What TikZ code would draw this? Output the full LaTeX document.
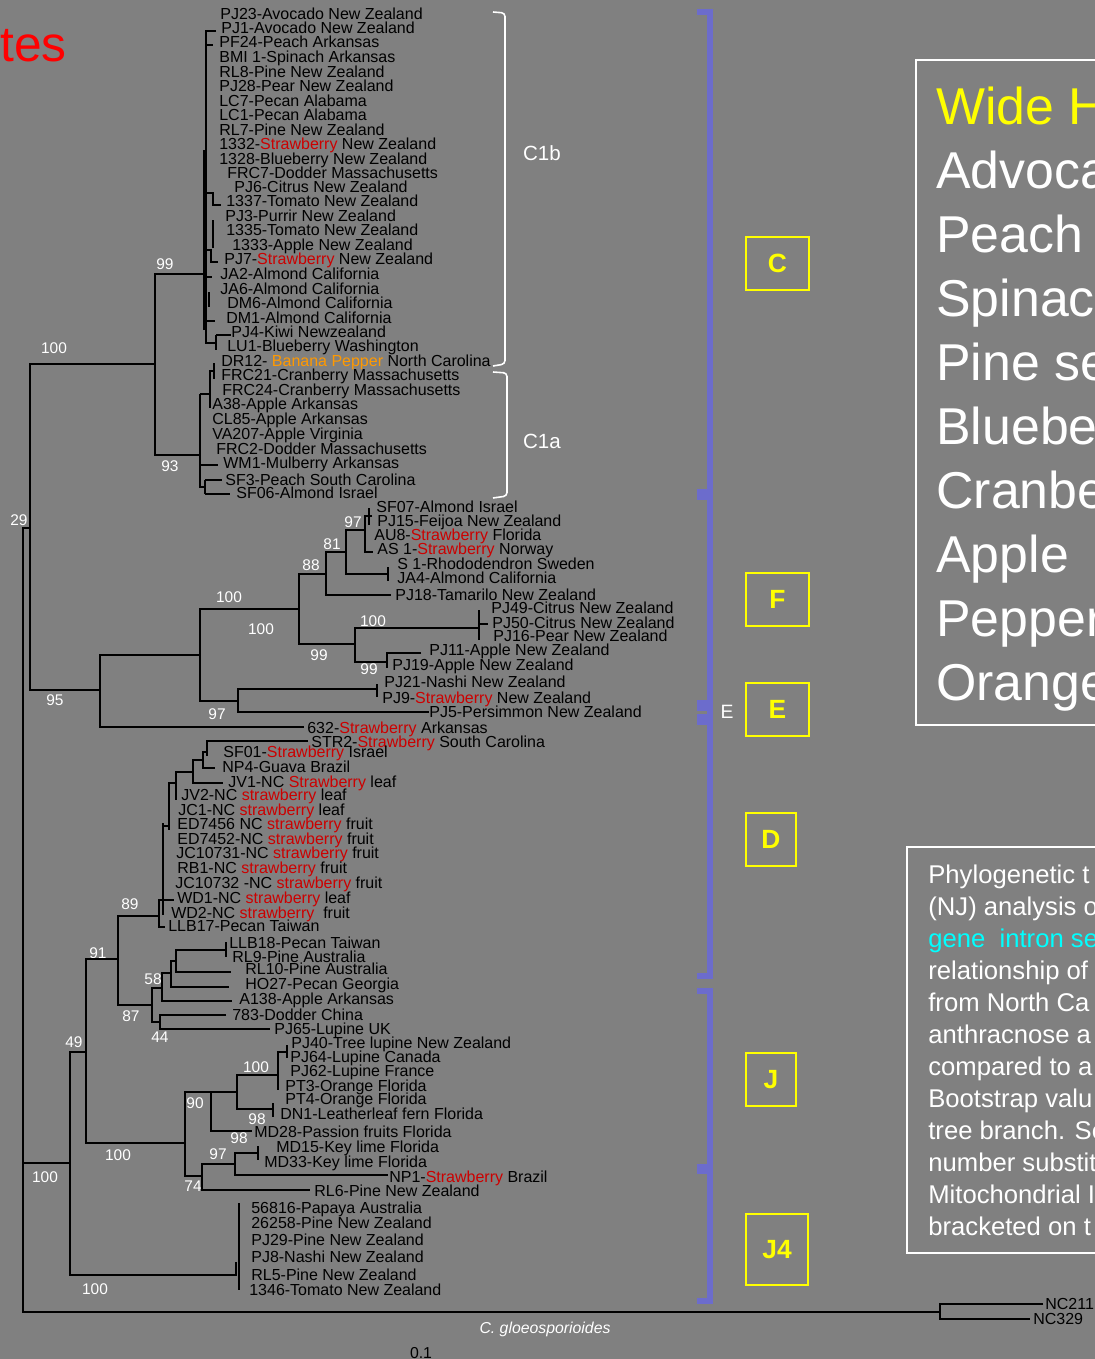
\documentclass[tikz,border=0pt]{standalone}
\usepackage{fontspec}
\setmainfont{Liberation Sans}
\definecolor{bggray}{RGB}{128,128,128}
\definecolor{strawred}{RGB}{204,0,0}
\definecolor{banana}{RGB}{255,153,0}
\definecolor{brkblue}{RGB}{108,108,204}
\definecolor{hiyellow}{RGB}{255,255,0}
\definecolor{hicyan}{RGB}{0,255,255}
\definecolor{hired}{RGB}{255,0,0}
\newcommand{\straw}[1]{\textcolor{strawred}{#1}}
\begin{document}
\begin{tikzpicture}[x=0.02cm,y=-0.02cm,
    leaf/.style={anchor=base west,inner sep=0pt,font=\fontsize{9.1}{10}\selectfont},
    boot/.style={inner sep=0pt,text=white,font=\fontsize{8.8}{10}\selectfont},
    br/.style={line width=1.2pt},
    sub/.style={draw=white,line width=0.9pt,rounded corners=2pt},
    grp/.style={draw=brkblue,line width=3.8pt},
    cladebox/.style={draw=hiyellow,line width=1.2pt,text=hiyellow,inner sep=0pt,font=\bfseries\fontsize{15}{15}\selectfont},
    hostline/.style={anchor=base west,inner sep=0pt,text=white,font=\fontsize{29.5}{30}\selectfont},
    capline/.style={anchor=base west,inner sep=0pt,text=white,font=\fontsize{14.6}{15}\selectfont}]
    \useasboundingbox (0,0) rectangle (1095,1359);
    \fill[bggray] (0,0) rectangle (1095,1359);
    \clip (0,0) rectangle (1095,1359);

    \node[anchor=base east,inner sep=0pt,text=hired,font=\fontsize{28.3}{30}\selectfont] (ttl) at (67,61) {tes};

    % leaves, clade C1b
    \node[leaf] (pj23) at (220,19) {PJ23-Avocado New Zealand};
    \node[leaf] (pj1) at (221,33) {PJ1-Avocado New Zealand};
    \node[leaf] (pf24) at (219,48) {PF24-Peach Arkansas};
    \node[leaf] (bmi1) at (219,62) {BMI 1-Spinach Arkansas};
    \node[leaf] (rl8) at (219,77) {RL8-Pine New Zealand};
    \node[leaf] (pj28) at (219,91) {PJ28-Pear New Zealand};
    \node[leaf] (lc7) at (219,106) {LC7-Pecan Alabama};
    \node[leaf] (lc1) at (219,120) {LC1-Pecan Alabama};
    \node[leaf] (rl7) at (219,135) {RL7-Pine New Zealand};
    \node[leaf] (s1332) at (219,149) {1332-\straw{Strawberry} New Zealand};
    \node[leaf] (s1328) at (219,164) {1328-Blueberry New Zealand};
    \node[leaf] (frc7) at (227,178) {FRC7-Dodder Massachusetts};
    \node[leaf] (pj6) at (234,192) {PJ6-Citrus New Zealand};
    \node[leaf] (s1337) at (226,206) {1337-Tomato New Zealand};
    \node[leaf] (pj3) at (225,221) {PJ3-Purrir New Zealand};
    \node[leaf] (s1335) at (226,235) {1335-Tomato New Zealand};
    \node[leaf] (s1333) at (232,250) {1333-Apple New Zealand};
    \node[leaf] (pj7) at (224,264) {PJ7-\straw{Strawberry} New Zealand};
    \node[leaf] (ja2) at (220,279) {JA2-Almond California};
    \node[leaf] (ja6) at (220,294) {JA6-Almond California};
    \node[leaf] (dm6) at (227,308) {DM6-Almond California};
    \node[leaf] (dm1) at (226,323) {DM1-Almond California};
    \node[leaf] (pj4) at (231,337) {PJ4-Kiwi Newzealand};
    \node[leaf] (lu1) at (227,351) {LU1-Blueberry Washington};
    \node[leaf] (dr12) at (221,366) {DR12- \textcolor{banana}{Banana Pepper} North Carolina};
    % leaves, clade C1a
    \node[leaf] (frc21) at (221,380) {FRC21-Cranberry Massachusetts};
    \node[leaf] (frc24) at (222,395) {FRC24-Cranberry Massachusetts};
    \node[leaf] (a38) at (212,409) {A38-Apple Arkansas};
    \node[leaf] (cl85) at (212,424) {CL85-Apple Arkansas};
    \node[leaf] (va207) at (212,439) {VA207-Apple Virginia};
    \node[leaf] (frc2) at (216,454) {FRC2-Dodder Massachusetts};
    \node[leaf] (wm1) at (223,468) {WM1-Mulberry Arkansas};
    \node[leaf] (sf3) at (225,485) {SF3-Peach South Carolina};
    \node[leaf] (sf06) at (236,498) {SF06-Almond Israel};
    % leaves, clade F and E
    \node[leaf] (sf07) at (376,512) {SF07-Almond Israel};
    \node[leaf] (pj15) at (377,526) {PJ15-Feijoa New Zealand};
    \node[leaf] (au8) at (374,540) {AU8-\straw{Strawberry} Florida};
    \node[leaf] (as1) at (377,554) {AS 1-\straw{Strawberry} Norway};
    \node[leaf] (s1) at (397,569) {S 1-Rhododendron Sweden};
    \node[leaf] (ja4) at (397,583) {JA4-Almond California};
    \node[leaf] (pj18) at (395,600) {PJ18-Tamarilo New Zealand};
    \node[leaf] (pj49) at (491,613) {PJ49-Citrus New Zealand};
    \node[leaf] (pj50) at (492,628) {PJ50-Citrus New Zealand};
    \node[leaf] (pj16) at (493,641) {PJ16-Pear New Zealand};
    \node[leaf] (pj11) at (429,655) {PJ11-Apple New Zealand};
    \node[leaf] (pj19) at (392,670) {PJ19-Apple New Zealand};
    \node[leaf] (pj21) at (384,687) {PJ21-Nashi New Zealand};
    \node[leaf] (pj9) at (382,703) {PJ9-\straw{Strawberry} New Zealand};
    \node[leaf] (pj5) at (429,717) {PJ5-Persimmon New Zealand};
    \node[leaf] (s632) at (307,733) {632-\straw{Strawberry} Arkansas};
    % leaves, clade D
    \node[leaf] (str2) at (311,747) {STR2-\straw{Strawberry} South Carolina};
    \node[leaf] (sf01) at (223,757) {SF01-\straw{Strawberry} Israel};
    \node[leaf] (np4) at (222,772) {NP4-Guava Brazil};
    \node[leaf] (jv1) at (228,787) {JV1-NC \straw{Strawberry} leaf};
    \node[leaf] (jv2) at (181,800) {JV2-NC \straw{strawberry} leaf};
    \node[leaf] (jc1) at (178,815) {JC1-NC \straw{strawberry} leaf};
    \node[leaf] (ed7456) at (177,829) {ED7456 NC \straw{strawberry} fruit};
    \node[leaf] (ed7452) at (177,844) {ED7452-NC \straw{strawberry} fruit};
    \node[leaf] (jc10731) at (176,858) {JC10731-NC \straw{strawberry} fruit};
    \node[leaf] (rb1) at (177,873) {RB1-NC \straw{strawberry} fruit};
    \node[leaf] (jc10732) at (175,888) {JC10732 -NC \straw{strawberry} fruit};
    \node[leaf] (wd1) at (177,903) {WD1-NC \straw{strawberry} leaf};
    \node[leaf] (wd2) at (171,918) {WD2-NC \straw{strawberry}\ \ fruit};
    \node[leaf] (llb17) at (168,931) {LLB17-Pecan Taiwan};
    \node[leaf] (llb18) at (229,948) {LLB18-Pecan Taiwan};
    \node[leaf] (rl9) at (232,962) {RL9-Pine Australia};
    \node[leaf] (rl10) at (245,974) {RL10-Pine Australia};
    \node[leaf] (ho27) at (245,989) {HO27-Pecan Georgia};
    \node[leaf] (a138) at (239,1004) {A138-Apple Arkansas};
    \node[leaf] (d783) at (232,1020) {783-Dodder China};
    % leaves, clade J and J4
    \node[leaf] (pj65) at (274,1034) {PJ65-Lupine UK};
    \node[leaf] (pj40) at (291,1048) {PJ40-Tree lupine New Zealand};
    \node[leaf] (pj64) at (290,1062) {PJ64-Lupine Canada};
    \node[leaf] (pj62) at (290,1076) {PJ62-Lupine France};
    \node[leaf] (pt3) at (285,1091) {PT3-Orange Florida};
    \node[leaf] (pt4) at (285,1104) {PT4-Orange Florida};
    \node[leaf] (dn1) at (280,1119) {DN1-Leatherleaf fern Florida};
    \node[leaf] (md28) at (254,1137) {MD28-Passion fruits Florida};
    \node[leaf] (md15) at (276,1152) {MD15-Key lime Florida};
    \node[leaf] (md33) at (264,1167) {MD33-Key lime Florida};
    \node[leaf] (np1) at (389,1182) {NP1-\straw{Strawberry} Brazil};
    \node[leaf] (rl6) at (314,1196) {RL6-Pine New Zealand};
    \node[leaf] (p56816) at (251,1213) {56816-Papaya Australia};
    \node[leaf] (p26258) at (251,1228) {26258-Pine New Zealand};
    \node[leaf] (pj29) at (251,1245) {PJ29-Pine New Zealand};
    \node[leaf] (pj8) at (251,1262) {PJ8-Nashi New Zealand};
    \node[leaf] (rl5) at (251,1280) {RL5-Pine New Zealand};
    \node[leaf] (t1346) at (249,1295) {1346-Tomato New Zealand};
    \node[leaf] (nc211) at (1045,1309) {NC211};
    \node[leaf] (nc329) at (1033,1324) {NC329};

    % bootstrap values
    \node[boot] (b1) at (165,264) {99};
    \node[boot] (b2) at (54,348) {100};
    \node[boot] (b3) at (170,466) {93};
    \node[boot] (b4) at (19,520) {29};
    \node[boot] (b5) at (353,522) {97};
    \node[boot] (b6) at (332,544) {81};
    \node[boot] (b7) at (311,565) {88};
    \node[boot] (b8) at (229,597) {100};
    \node[boot] (b9) at (261,629) {100};
    \node[boot] (b10) at (373,621) {100};
    \node[boot] (b11) at (319,655) {99};
    \node[boot] (b12) at (369,669) {99};
    \node[boot] (b13) at (55,700) {95};
    \node[boot] (b14) at (217,714) {97};
    \node[boot] (b15) at (130,904) {89};
    \node[boot] (b16) at (98,953) {91};
    \node[boot] (b17) at (153,979) {58};
    \node[boot] (b18) at (131,1016) {87};
    \node[boot] (b19) at (160,1037) {44};
    \node[boot] (b20) at (74,1042) {49};
    \node[boot] (b21) at (256,1067) {100};
    \node[boot] (b22) at (195,1103) {90};
    \node[boot] (b23) at (257,1119) {98};
    \node[boot] (b24) at (239,1138) {98};
    \node[boot] (b25) at (218,1154) {97};
    \node[boot] (b26) at (118,1155) {100};
    \node[boot] (b27) at (45,1177) {100};
    \node[boot] (b28) at (193,1186) {74};
    \node[boot] (b29) at (95,1289) {100};
    \node[boot,font=\itshape\fontsize{9}{10}\selectfont] (outg) at (545,1329) {C. gloeosporioides};
    \node[inner sep=0pt,font=\fontsize{9}{10}\selectfont] (scl) at (421,1353) {0.1};

    % clade C
    \draw[br] (216,31) -- (206,31) -- (206,343) -- (216,343);
    \draw[br] (204,150) -- (204,330);
    \draw[br] (216,335) -- (216,350);
    \draw[br] (216,335) -- (231,335);
    \draw[br] (206,45) -- (213,45);
    \draw[br] (206,193) -- (213,193) -- (213,205) -- (221,205);
    \draw[br] (213,220) -- (213,248);
    \draw[br] (206,250) -- (211,250) -- (211,262) -- (218,262);
    \draw[br] (206,277) -- (212,277);
    \draw[br] (209,292) -- (209,307);
    \draw[br] (206,321) -- (215,321);
    \draw[br] (204,274) -- (155,274) -- (155,455) -- (200,455);
    \draw[br] (155,364) -- (30,364) -- (30,690) -- (100,690);
    \draw[br] (200,394) -- (200,487) -- (205,487);
    \draw[br] (200,394) -- (210,394);
    \draw[br] (210,370) -- (210,408);
    \draw[br] (210,371) -- (214,371);
    \draw[br] (214,363) -- (214,379);
    \draw[br] (200,465) -- (218,465);
    \draw[br] (205,480) -- (205,494);
    \draw[br] (205,480) -- (222,480);
    \draw[br] (205,494) -- (230,494);

    % clade F and E
    \draw[br] (200,655) -- (100,655) -- (100,727) -- (304,727);
    \draw[br] (299,609) -- (200,609) -- (200,701) -- (238,701);
    \draw[br] (326,574) -- (299,574) -- (299,644) -- (355,644);
    \draw[br] (346,552) -- (326,552) -- (326,595) -- (391,595);
    \draw[br] (365,530) -- (346,530) -- (346,574) -- (388,574);
    \draw[br] (372,516) -- (365,516) -- (365,552) -- (373,552);
    \draw[br] (369,508) -- (369,525);
    \draw[br] (388,567) -- (388,581);
    \draw[br] (479,628) -- (355,628) -- (355,662) -- (387,662);
    \draw[br] (479,610) -- (479,640);
    \draw[br] (479,624) -- (488,624);
    \draw[br] (421,653) -- (387,653) -- (387,668);
    \draw[br] (377,689) -- (238,689) -- (238,712) -- (429,712);
    \draw[br] (377,684) -- (377,697);

    % root and outgroup
    \draw[br] (30,528) -- (23,528) -- (23,1312) -- (940,1312);
    \draw[br] (1043,1304) -- (940,1304) -- (940,1319) -- (1030,1319);

    % clade D
    \draw[br] (23,1163) -- (70,1163);
    \draw[br] (86,1052) -- (70,1052) -- (70,1275) -- (237,1275);
    \draw[br] (118,959) -- (86,959) -- (86,1143) -- (185,1143);
    \draw[br] (159,916) -- (118,916) -- (118,1005) -- (152,1005);
    \draw[br] (163,900) -- (159,900) -- (159,927) -- (165,927);
    \draw[br] (159,900) -- (174,900);
    \draw[br] (163,823) -- (163,915);
    \draw[br] (163,826) -- (169,826);
    \draw[br] (176,783) -- (169,783) -- (169,830);
    \draw[br] (193,772) -- (176,772) -- (176,800);
    \draw[br] (203,760) -- (193,760) -- (193,783) -- (223,783);
    \draw[br] (207,752) -- (203,752) -- (203,768) -- (215,768);
    \draw[br] (308,741) -- (207,741) -- (207,756);
    \draw[br] (162,988) -- (152,988) -- (152,1022) -- (160,1022);
    \draw[br] (171,973) -- (162,973) -- (162,1001) -- (232,1001);
    \draw[br] (176,961) -- (171,961) -- (171,987) -- (229,987);
    \draw[br] (226,950) -- (176,950) -- (176,972) -- (231,972);
    \draw[br] (226,942) -- (226,957);
    \draw[br] (226,1015) -- (160,1015) -- (160,1029) -- (270,1029);

    % clade J and J4
    \draw[br] (237,1092) -- (185,1092) -- (185,1176) -- (202,1176);
    \draw[br] (211,1092) -- (211,1131) -- (252,1131);
    \draw[br] (278,1075) -- (237,1075) -- (237,1109) -- (273,1109);
    \draw[br] (287,1052) -- (278,1052) -- (278,1090);
    \draw[br] (287,1045) -- (287,1058);
    \draw[br] (273,1103) -- (273,1117);
    \draw[br] (235,1164) -- (202,1164) -- (202,1190) -- (310,1190);
    \draw[br] (258,1153) -- (235,1153) -- (235,1175) -- (388,1175);
    \draw[br] (258,1146) -- (258,1160);
    \draw[br] (239,1203) -- (239,1290);
    \draw[br] (236,1262) -- (236,1276);

    % subclade brackets
    \draw[sub] (493,12) -- (505,13) -- (505,364) -- (493,366);
    \draw[sub] (493,372) -- (507,373) -- (507,496) -- (493,498);
    \node[inner sep=0pt,text=white,font=\fontsize{11.7}{12}\selectfont] (c1b) at (542,153) {C1b};
    \node[inner sep=0pt,text=white,font=\fontsize{11.7}{12}\selectfont] (c1a) at (542,441) {C1a};

    % group brackets
    \draw[grp] (697,12) -- (710,12) -- (710,492) -- (697,492);
    \draw[grp] (697,497) -- (710,497) -- (710,703) -- (697,703);
    \draw[grp] (697,708) -- (710,708) -- (710,717) -- (697,717);
    \draw[grp] (697,722) -- (710,722) -- (710,976) -- (697,976);
    \draw[grp] (697,991) -- (710,991) -- (710,1167) -- (697,1167);
    \draw[grp] (697,1171) -- (710,1171) -- (710,1301) -- (697,1301);
    \node[inner sep=0pt,text=white,font=\fontsize{11}{12}\selectfont] (elbl) at (727,712) {E};

    \node[cladebox,minimum width=1.26cm,minimum height=1.06cm] (boxc) at (777.5,263.5) {C};
    \node[cladebox,minimum width=1.26cm,minimum height=1.06cm] (boxf) at (777.5,599.5) {F};
    \node[cladebox,minimum width=1.26cm,minimum height=1.06cm] (boxe) at (777.5,709.5) {E};
    \node[cladebox,minimum width=1.0cm,minimum height=1.06cm] (boxd) at (771,839.5) {D};
    \node[cladebox,minimum width=1.0cm,minimum height=1.06cm] (boxj) at (771,1079.5) {J};
    \node[cladebox,minimum width=1.24cm,minimum height=1.42cm] (boxj4) at (777,1249.5) {J4};

    % host panel
    \draw[white,line width=0.9pt] (916,60) rectangle (1110,725);
    \node[hostline,text=hiyellow] (h0) at (936,124) {Wide H};
    \node[hostline] (h1) at (936,188) {Advoca};
    \node[hostline] (h2) at (936,252) {Peach};
    \node[hostline] (h3) at (936,316) {Spinac};
    \node[hostline] (h4) at (936,380) {Pine se};
    \node[hostline] (h5) at (936,444) {Bluebe};
    \node[hostline] (h6) at (936,508) {Cranbe};
    \node[hostline] (h7) at (936,572) {Apple};
    \node[hostline] (h8) at (936,636) {Pepper};
    \node[hostline] (h9) at (936,700) {Orange};

    % caption panel
    \draw[white,line width=0.9pt] (907,847) rectangle (1110,1253);
    \node[capline] (t1) at (928,883) {Phylogenetic t};
    \node[capline] (t2) at (928,915) {(NJ) analysis o};
    \node[capline,text=hicyan] (t3) at (928,947) {gene\ \ intron se};
    \node[capline] (t4) at (928,979) {relationship of};
    \node[capline] (t5) at (928,1011) {from North Ca};
    \node[capline] (t6) at (928,1043) {anthracnose a};
    \node[capline] (t7) at (928,1075) {compared to a};
    \node[capline] (t8) at (928,1107) {Bootstrap valu};
    \node[capline] (t9) at (928,1139) {tree branch. Se};
    \node[capline] (t10) at (928,1171) {number substit};
    \node[capline] (t11) at (928,1203) {Mitochondrial I};
    \node[capline] (t12) at (928,1235) {bracketed on t};
\end{tikzpicture}
\end{document}
